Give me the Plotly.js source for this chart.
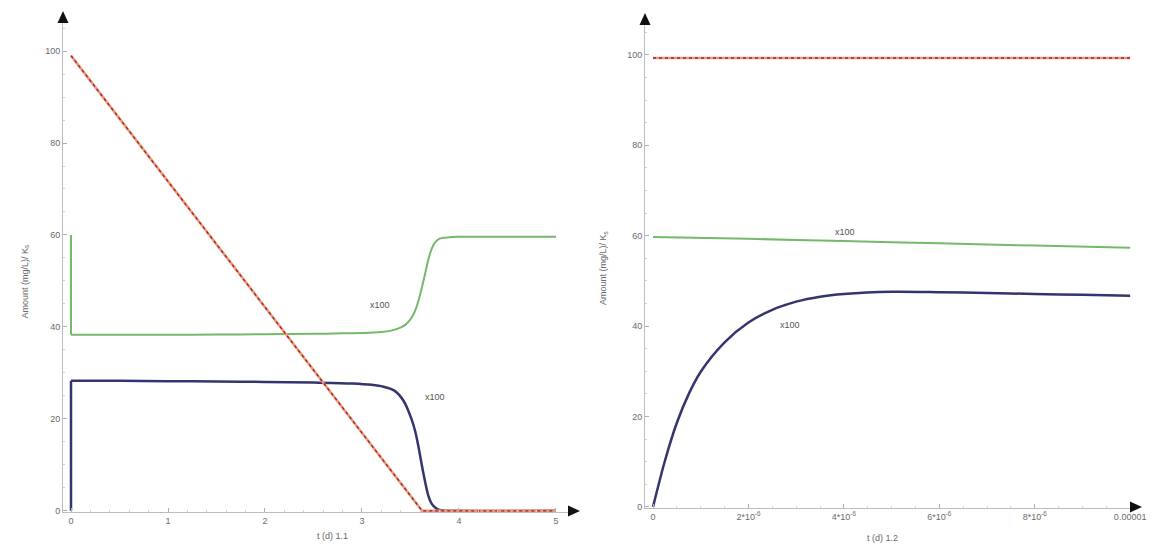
<!DOCTYPE html>
<html>
<head>
<meta charset="utf-8">
<script src="https://cdn.plot.ly/plotly-3.0.1.min.js"></script>
<style>html,body{margin:0;padding:0;background:#fff;}#chart{width:1153px;height:555px;}</style>
</head>
<body>
<div id="chart"></div>
<script>
// ---------- data: left panel (1.1) ----------
const leftRedT   = [0, 3.62, 5];
const leftRedY   = [99, 0, 0];
const leftGreenT = [0, 0.0001, 0.02, 0.5, 1.0, 1.5, 2.0, 2.5, 2.8, 3.0, 3.2, 3.3, 3.39, 3.45, 3.49, 3.53, 3.56, 3.59, 3.62, 3.65, 3.68, 3.71, 3.75, 3.80, 3.90, 3.98, 4.5, 5.0];
const leftGreenY = [60, 38.3, 38.3, 38.3, 38.3, 38.35, 38.4, 38.5, 38.6, 38.7, 38.9, 39.2, 39.8, 40.5, 41.4, 42.7, 44.2, 46.3, 48.8, 51.5, 54.3, 56.5, 58.3, 59.2, 59.5, 59.6, 59.6, 59.6];
const leftBlueT  = [0, 0.0001, 0.02, 0.5, 1.0, 1.5, 2.0, 2.5, 2.9, 3.1, 3.22, 3.33, 3.43, 3.51, 3.55, 3.58, 3.63, 3.68, 3.72, 3.76, 3.80, 3.85, 3.9, 5.0];
const leftBlueY  = [0, 28.3, 28.3, 28.3, 28.2, 28.15, 28.05, 27.9, 27.7, 27.4, 27.0, 26.2, 23.9, 20.0, 17.2, 14.2, 8.5, 3.6, 1.5, 0.6, 0.2, 0.05, 0.0, 0.0];

// ---------- data: right panel (1.2) ----------
const rightRedT   = [0, 1e-5];
const rightRedY   = [99.3, 99.3];
const rightGreenT = [0, 2e-6, 4e-6, 6e-6, 8e-6, 1e-5];
const rightGreenY = [59.7, 59.3, 58.8, 58.3, 57.8, 57.3];
const rightBlueT  = [0, 0.25e-6, 0.5e-6, 0.75e-6, 1e-6, 1.5e-6, 2e-6, 2.5e-6, 3e-6, 3.5e-6, 4e-6, 5e-6, 6e-6, 7e-6, 8e-6, 9e-6, 1e-5];
const rightBlueY  = [0, 10.2, 18.6, 25.0, 29.9, 36.4, 40.8, 43.6, 45.4, 46.5, 47.1, 47.6, 47.5, 47.3, 47.1, 46.9, 46.7];

// ---------- ticks ----------
const yTickVals = [0, 20, 40, 60, 80, 100];
const yTickText = ['0', '20', '40', '60', '80', '100'];
const leftXTickVals = [0, 1, 2, 3, 4, 5];
const leftXTickText = ['0', '1', '2', '3', '4', '5'];
const rightXTickVals = [0, 2e-6, 4e-6, 6e-6, 8e-6, 1e-5];
const rightXTickText = ['0', '2*10<sup>-6</sup>', '4*10<sup>-6</sup>', '6*10<sup>-6</sup>', '8*10<sup>-6</sup>', '0.00001'];

// ---------- labels ----------
const yTitle = 'Amount (mg/L)/ K<sub>s</sub>';
const leftXTitle = 't (d) 1.1';
const rightXTitle = 't (d) 1.2';
const scaleNote = 'x100';

const W = 1153, H = 555;
const px = x => x / W;
const py = y => 1 - y / H;

const RED = '#f3957a', REDDASH = '#8a2e22', GREEN = '#74b86a', BLUE = '#34346e';

function lineTrace(x, y, color, width, xa, ya, dash, shape) {
  return {x: x, y: y, type: 'scatter', mode: 'lines', xaxis: xa, yaxis: ya,
          line: {color: color, width: width, dash: dash || 'solid', shape: shape || 'linear', smoothing: 0.8},
          hoverinfo: 'skip', showlegend: false};
}

const traces = [
  // initial vertical jump drawn straight, the rest smoothed
  lineTrace(leftGreenT.slice(0, 2), leftGreenY.slice(0, 2), GREEN, 2, 'x', 'y'),
  lineTrace(leftGreenT.slice(1), leftGreenY.slice(1), GREEN, 2, 'x', 'y', null, 'spline'),
  lineTrace(leftBlueT.slice(0, 2), leftBlueY.slice(0, 2), BLUE, 2.5, 'x', 'y'),
  lineTrace(leftBlueT.slice(1), leftBlueY.slice(1), BLUE, 2.5, 'x', 'y', null, 'spline'),
  lineTrace(leftRedT, leftRedY, RED, 2.6, 'x', 'y'),
  lineTrace(leftRedT, leftRedY, REDDASH, 1.3, 'x', 'y', '3px,3px'),
  lineTrace(rightGreenT, rightGreenY, GREEN, 2, 'x2', 'y2', null, 'spline'),
  lineTrace(rightBlueT, rightBlueY, BLUE, 2.5, 'x2', 'y2', null, 'spline'),
  lineTrace(rightRedT, rightRedY, RED, 2.6, 'x2', 'y2'),
  lineTrace(rightRedT, rightRedY, REDDASH, 1.3, 'x2', 'y2', '3px,3px')
];

const tickFont = {family: 'Liberation Sans, Arial, sans-serif', size: 9, color: '#6a6a6a'};
const axCommon = {
  showgrid: false, zeroline: false, showline: true, linecolor: '#bdbdbd', linewidth: 1,
  ticks: 'inside', ticklen: 4, tickcolor: '#b0b0b0', tickfont: tickFont, fixedrange: true
};
const noteFont = {family: 'Liberation Sans, Arial', size: 9, color: '#555'};
const titleFont = {family: 'Liberation Sans, Arial', size: 9, color: '#666'};

const layout = {
  width: W, height: H,
  margin: {l: 0, r: 0, t: 0, b: 0},
  paper_bgcolor: '#ffffff', plot_bgcolor: '#ffffff',
  showlegend: false,
  xaxis: Object.assign({}, axCommon, {domain: [px(63), px(568)], range: [-0.0825, 5.124], anchor: 'y',
    tickmode: 'array', tickvals: leftXTickVals, ticktext: leftXTickText, minor: {ticks: 'inside', ticklen: 2, tickcolor: '#d0d0d0', dtick: 0.2}}),
  yaxis: Object.assign({}, axCommon, {domain: [py(512), py(23)], range: [-0.25, 106.1], anchor: 'x',
    tickmode: 'array', tickvals: yTickVals, ticktext: yTickText, minor: {ticks: 'inside', ticklen: 2, tickcolor: '#d0d0d0', dtick: 5}}),
  xaxis2: Object.assign({}, axCommon, {domain: [px(645), px(1133)], range: [-0.168e-6, 10.06e-6], anchor: 'y2',
    tickmode: 'array', tickvals: rightXTickVals, ticktext: rightXTickText, minor: {ticks: 'inside', ticklen: 2, tickcolor: '#d0d0d0', dtick: 0.5e-6}}),
  yaxis2: Object.assign({}, axCommon, {domain: [py(508), py(25)], range: [-0.25, 106.6], anchor: 'x2',
    tickmode: 'array', tickvals: yTickVals, ticktext: yTickText, minor: {ticks: 'inside', ticklen: 2, tickcolor: '#d0d0d0', dtick: 5}}),
  annotations: [
    {text: scaleNote, x: 3.19, y: 44.8, xref: 'x', yref: 'y', showarrow: false, font: noteFont},
    {text: scaleNote, x: 3.75, y: 24.8, xref: 'x', yref: 'y', showarrow: false, font: noteFont},
    {text: scaleNote, x: 4.03e-6, y: 60.8, xref: 'x2', yref: 'y2', showarrow: false, font: noteFont},
    {text: scaleNote, x: 2.87e-6, y: 40.3, xref: 'x2', yref: 'y2', showarrow: false, font: noteFont},
    {text: yTitle, x: px(17), y: py(282), xref: 'paper', yref: 'paper', showarrow: false, textangle: -90, font: titleFont},
    {text: yTitle, x: px(603), y: py(268), xref: 'paper', yref: 'paper', showarrow: false, textangle: -90, font: titleFont},
    {text: leftXTitle, x: px(315), y: py(543), xref: 'paper', yref: 'paper', showarrow: false, font: titleFont},
    {text: rightXTitle, x: px(900), y: py(545), xref: 'paper', yref: 'paper', showarrow: false, font: titleFont}
  ],
  shapes: [
    // axis arrowheads (decoration)
    {type: 'path', xref: 'paper', yref: 'paper', fillcolor: '#111', line: {width: 0},
      path: `M ${px(57.5)} ${py(23)} L ${px(68.5)} ${py(23)} L ${px(63)} ${py(11)} Z`},
    {type: 'path', xref: 'paper', yref: 'paper', fillcolor: '#111', line: {width: 0},
      path: `M ${px(568)} ${py(505.5)} L ${px(568)} ${py(516.5)} L ${px(580)} ${py(511)} Z`},
    {type: 'path', xref: 'paper', yref: 'paper', fillcolor: '#111', line: {width: 0},
      path: `M ${px(639.5)} ${py(25)} L ${px(650.5)} ${py(25)} L ${px(645)} ${py(13)} Z`},
    {type: 'path', xref: 'paper', yref: 'paper', fillcolor: '#111', line: {width: 0},
      path: `M ${px(1130)} ${py(501.5)} L ${px(1130)} ${py(512.5)} L ${px(1142)} ${py(507)} Z`}
  ]
};

Plotly.newPlot('chart', traces, layout, {staticPlot: true, displayModeBar: false});
</script>
</body>
</html>
